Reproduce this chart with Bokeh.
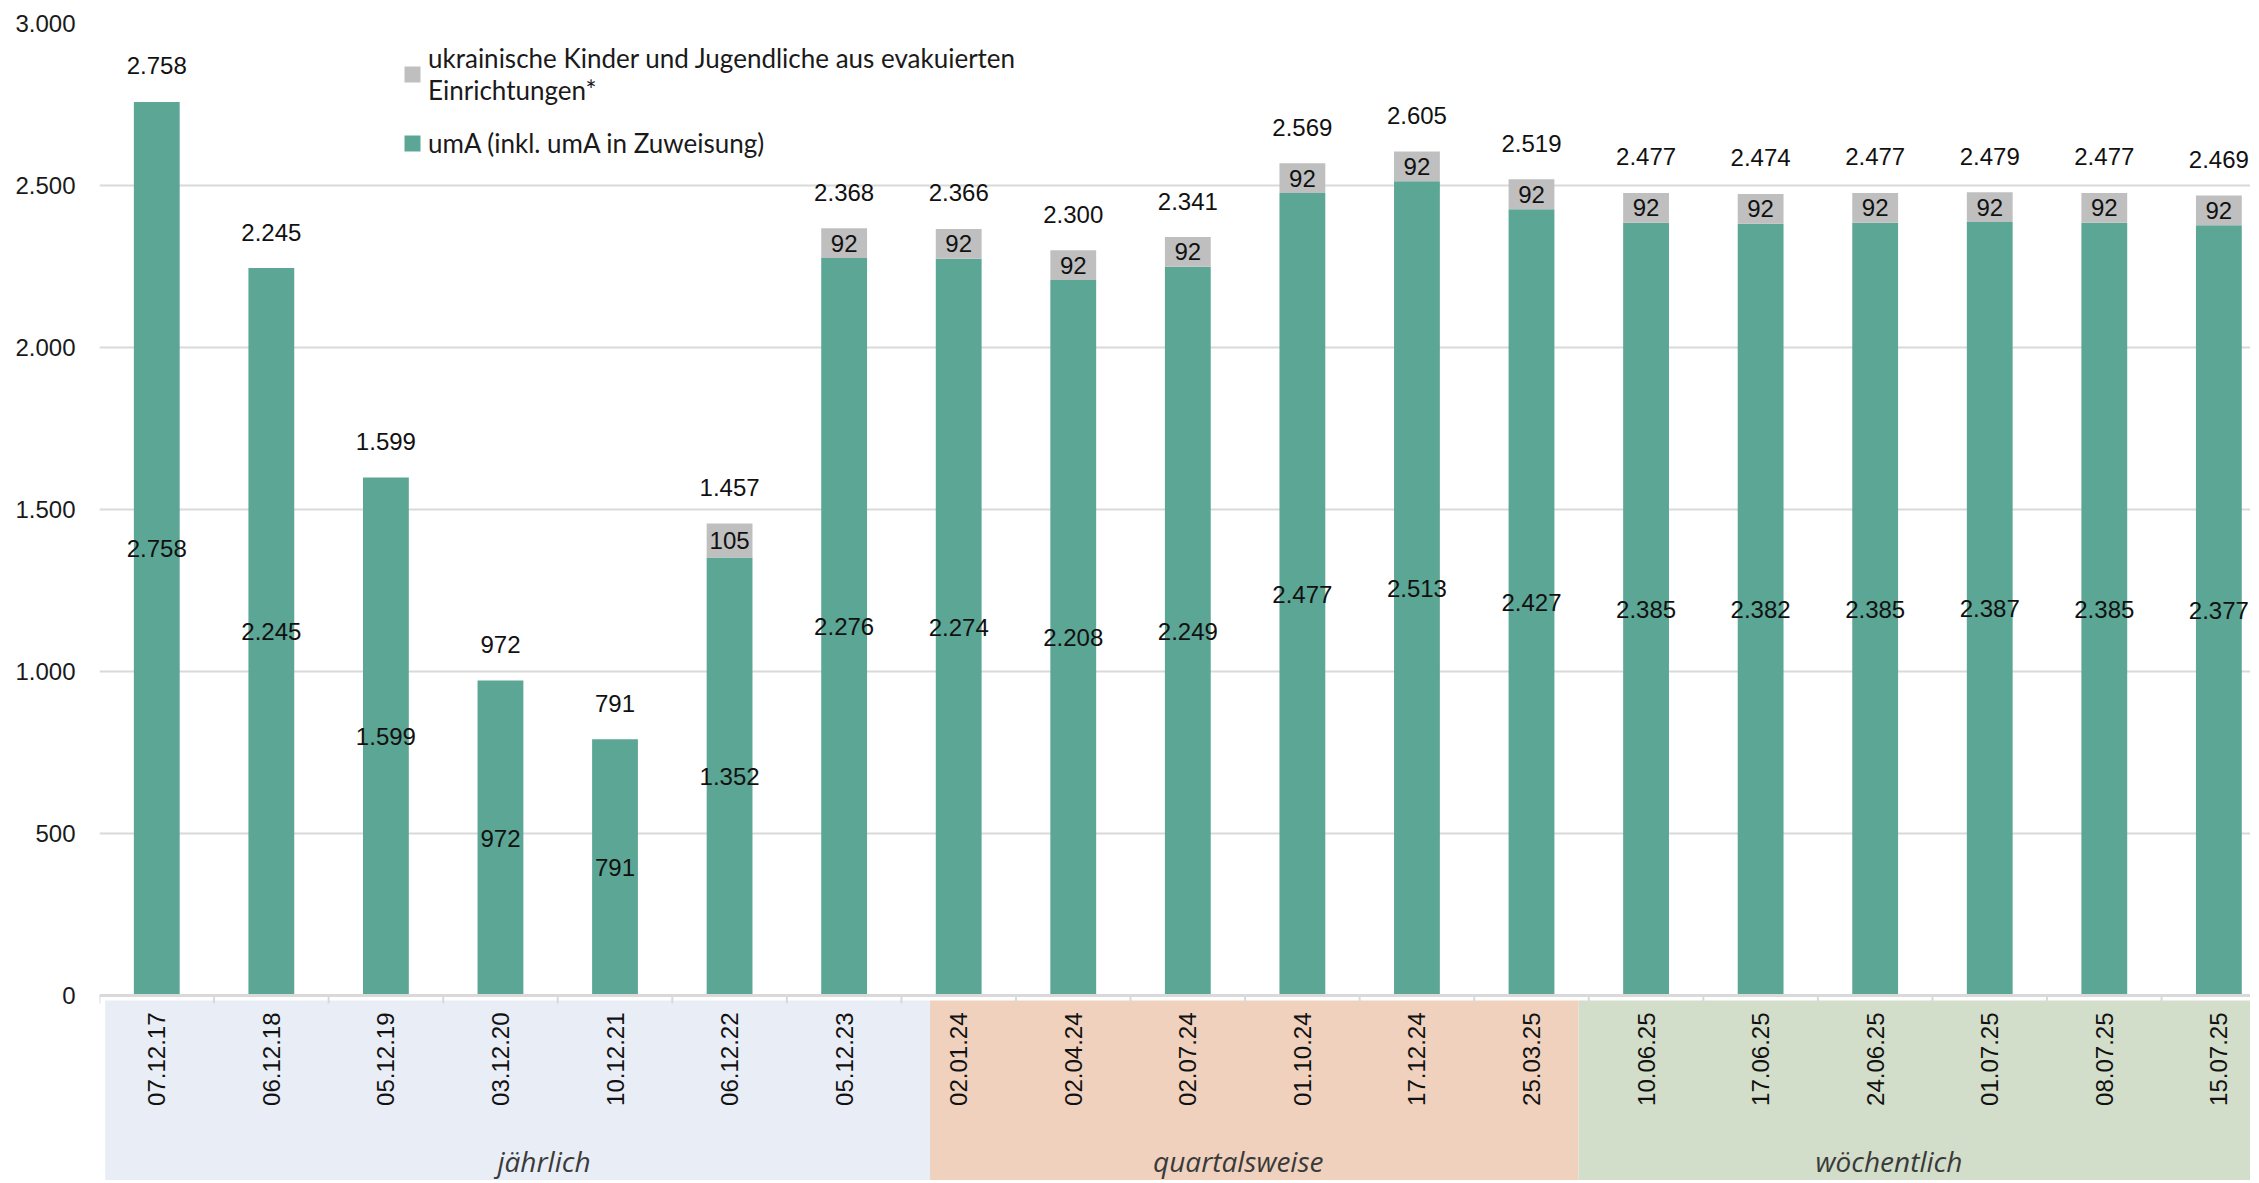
import math
from bokeh.plotting import figure
from bokeh.models import ColumnDataSource, Range1d, FixedTicker, Span, Legend, LegendItem
from bokeh.core.properties import value
from bokeh.embed import file_html
from bokeh.resources import INLINE

# ---------------- data ----------------
dates = ["07.12.17", "06.12.18", "05.12.19", "03.12.20", "10.12.21", "06.12.22", "05.12.23",
         "02.01.24", "02.04.24", "02.07.24", "01.10.24", "17.12.24", "25.03.25",
         "10.06.25", "17.06.25", "24.06.25", "01.07.25", "08.07.25", "15.07.25"]
uma = [2758, 2245, 1599, 972, 791, 1352, 2276,
       2274, 2208, 2249, 2477, 2513, 2427,
       2385, 2382, 2385, 2387, 2385, 2377]
ukr = [0, 0, 0, 0, 0, 105, 92,
       92, 92, 92, 92, 92, 92,
       92, 92, 92, 92, 92, 92]
groups = ["jährlich", "quartalsweise", "wöchentlich"]
y_ticks = [0, 500, 1000, 1500, 2000, 2500, 3000]
y_tick_labels = ["0", "500", "1.000", "1.500", "2.000", "2.500", "3.000"]
legend_labels = ["ukrainische Kinder und Jugendliche aus evakuierten\nEinrichtungen*",
                 "umA (inkl. umA in Zuweisung)"]

# ---------------- layout ----------------
W, H = 2250, 1180
LEFT, TOP = 99, 23
FRAME_W = W - LEFT
FRAME_H = H - TOP
PX = 972 / 3000.0          # pixels per value unit
CAT = 114.56               # pixels per category
x_end = FRAME_W / CAT
y_start = 3000 - FRAME_H / PX

GREEN = "#5CA695"
GRAY = "#BFBFBF"
GRID = "#D9D9D9"
NUM_FONT = "Liberation Sans"

def fmt(v):
    return f"{v:,}".replace(",", ".")

n = len(dates)
xs = [i + 0.5 for i in range(n)]
totals = [a + b for a, b in zip(uma, ukr)]

src = ColumnDataSource(dict(
    x=xs, uma=uma, ukr=ukr, total=totals,
    uma_lbl=[fmt(v) for v in uma],
    tot_lbl=[fmt(v) for v in totals],
    uma_mid=[v / 2 for v in uma],
    tot_y=[t + 36 / PX for t in totals],
    date=dates,
    date_y=[-17 / PX] * n,
))
gi = [i for i in range(n) if ukr[i] > 0]
gsrc = ColumnDataSource(dict(
    x=[xs[i] for i in gi],
    y=[uma[i] + ukr[i] / 2 for i in gi],
    lbl=[fmt(ukr[i]) for i in gi],
))

p = figure(width=W, height=H, output_backend="svg", toolbar_location=None,
           x_range=Range1d(0, x_end), y_range=Range1d(y_start, 3000),
           x_axis_location=None, min_border_left=LEFT, min_border_top=TOP,
           min_border_right=0, min_border_bottom=0)
p.outline_line_color = None
p.xgrid.visible = False
p.ygrid.grid_line_color = GRID
p.ygrid.grid_line_width = 2
p.yaxis.ticker = FixedTicker(ticks=y_ticks)
p.yaxis.major_label_overrides = {t: l for t, l in zip(y_ticks, y_tick_labels)}
p.yaxis.axis_line_color = None
p.yaxis.major_tick_line_color = None
p.yaxis.minor_tick_line_color = None
p.yaxis.major_label_standoff = 18
p.yaxis.major_label_text_font = NUM_FONT
p.yaxis.major_label_text_font_size = "24px"
p.yaxis.major_label_text_color = "#1a1a1a"

# group bands under the axis
band_edges = [0.05, 7.25, 12.91, x_end + 1]
band_colors = ["#E9EDF6", "#EFD1BE", "#D2DDCA"]
p.quad(left=band_edges[:-1], right=band_edges[1:], top=[-5 / PX] * 3, bottom=[y_start] * 3,
       fill_color=band_colors, line_color=None)
band_label_x = [3.88, 9.94, 15.62]
p.text(x=band_label_x, y=[-165 / PX] * 3, text=groups,
       text_font=value("Open Sans"), text_font_style="italic", text_font_size="28px",
       text_color="#3a3a3a", text_align="center", text_baseline="middle")

# axis line & ticks
p.add_layout(Span(location=0, dimension="width", line_color=GRID, line_width=3))
ks = list(range(n + 1))
p.segment(x0=ks, y0=[0] * len(ks), x1=ks, y1=[-8 / PX] * len(ks), line_color=GRID, line_width=2)

# bars
r_uma = p.vbar(x="x", bottom=0, top="uma", width=0.4, source=src, fill_color=GREEN, line_color=None)
r_ukr = p.vbar(x="x", bottom="uma", top="total", width=0.4, source=src, fill_color=GRAY, line_color=None)

# labels
common = dict(text_font=value(NUM_FONT), text_font_size="24px", text_color="#111111",
              text_align="center", text_baseline="middle")
p.text(x="x", y="uma_mid", text="uma_lbl", source=src, **common)
p.text(x="x", y="y", text="lbl", source=gsrc, **common)
p.text(x="x", y="tot_y", text="tot_lbl", source=src, **common)

# date tick labels (vertical)
p.text(x="x", y="date_y", text="date", source=src, angle=math.pi / 2,
       text_font=value(NUM_FONT), text_font_size="24px", text_color="#111111",
       text_align="right", text_baseline="middle")

legend = Legend(items=[LegendItem(label=legend_labels[0], renderers=[r_ukr]),
                       LegendItem(label=legend_labels[1], renderers=[r_uma])],
                location=(303, FRAME_H - 136), orientation="vertical",
                label_text_font="Lato", label_text_font_size="26px", label_text_color="#1a1a1a",
                glyph_width=20, glyph_height=20, label_standoff=6, spacing=21,
                padding=0, margin=0, border_line_color=None, background_fill_alpha=0)
p.add_layout(legend)

open("out.html", "w").write(file_html(p, INLINE))
